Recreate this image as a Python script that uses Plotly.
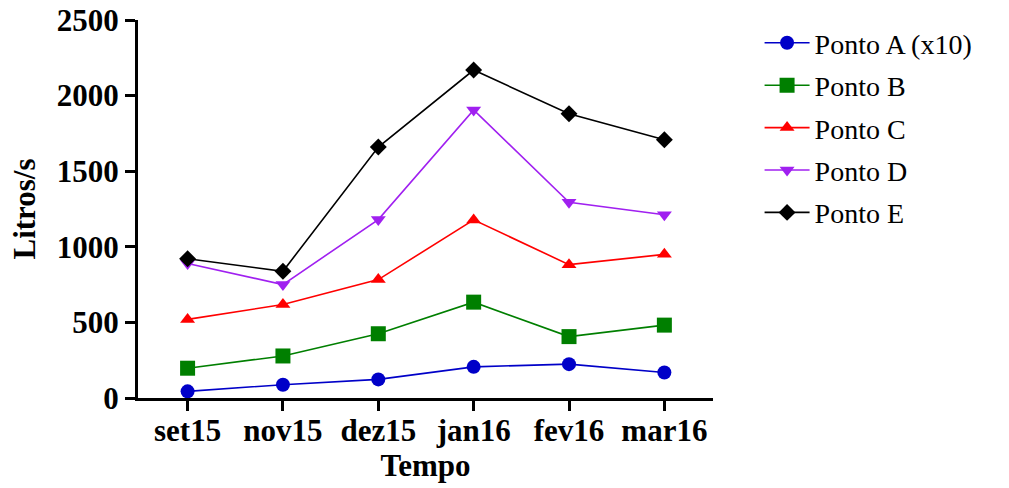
import plotly.graph_objects as go

months = ["set15", "nov15", "dez15", "jan16", "fev16", "mar16"]
ponto_a = [44, 88, 123, 206, 224, 169]
ponto_b = [197, 278, 425, 634, 406, 482]
ponto_c = [520, 618, 783, 1178, 882, 950]
ponto_d = [890, 750, 1180, 1905, 1295, 1212]
ponto_e = [921, 838, 1660, 2169, 1880, 1708]
y_ticks = [0, 500, 1000, 1500, 2000, 2500]

series = [
    ("Ponto A (x10)", ponto_a, "#0000C8", "circle", 14),
    ("Ponto B", ponto_b, "#007F00", "square", 15),
    ("Ponto C", ponto_c, "#FF0000", "triangle-up", 13),
    ("Ponto D", ponto_d, "#A020F0", "triangle-down", 13),
    ("Ponto E", ponto_e, "#000000", "diamond", 13),
]

fig = go.Figure()
for i, (name, vals, color, sym, size) in enumerate(series):
    fig.add_trace(go.Scatter(
        x=list(range(len(months))), y=vals, name=name, mode="lines+markers",
        line=dict(color=color, width=1.6),
        marker=dict(symbol=sym, size=size, color=color, line=dict(width=0)),
        legendgroup=f"g{i}",
    ))

tick_font = dict(family="Liberation Serif", size=31, color="black", weight="bold")
title_font = dict(family="Liberation Serif", size=31, color="black", weight="bold")

fig.update_layout(
    width=1009, height=488,
    margin=dict(l=138, r=296, t=20, b=90),
    paper_bgcolor="white", plot_bgcolor="white",
    showlegend=True,
    legend=dict(
        x=1.081, y=1.005, xanchor="left", yanchor="top",
        font=dict(family="Liberation Serif", size=28, color="black"),
        tracegroupgap=3, itemwidth=45, bgcolor="rgba(0,0,0,0)",
    ),
    xaxis=dict(
        range=[-0.52, 5.51], tickmode="array",
        tickvals=list(range(len(months))), ticktext=months,
        showline=True, linecolor="black", linewidth=3,
        ticks="outside", ticklen=10, tickwidth=3, tickcolor="black",
        showgrid=False, zeroline=False, automargin=False,
        tickfont=tick_font, ticklabelstandoff=-7,
        ticklabeloverflow="allow",
        title=dict(text="Tempo", font=title_font, standoff=2),
    ),
    yaxis=dict(
        range=[0, 2500], tickmode="array", tickvals=y_ticks,
        showline=True, linecolor="black", linewidth=3,
        ticks="outside", ticklen=10, tickwidth=3, tickcolor="black",
        showgrid=False, zeroline=False, automargin=False,
        tickfont=tick_font, ticklabeloverflow="allow",
        title=dict(text="Litros/s", font=title_font, standoff=12),
    ),
)

fig.write_html(
    "out.html",
    config={"displayModeBar": False},
    post_script="document.body.style.margin='0';",
)
